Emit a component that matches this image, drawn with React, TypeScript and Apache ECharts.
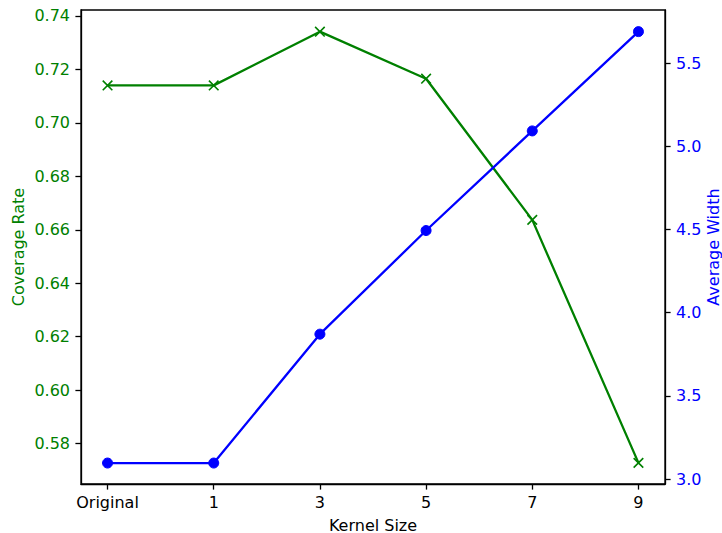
import React, { useEffect, useRef } from "react";
import * as echarts from "echarts";

const categories = ["Original", "1", "3", "5", "7", "9"];
const coverageRate = [0.714, 0.714, 0.7341, 0.7165, 0.6637, 0.5728];
const averageWidth = [3.096, 3.096, 3.871, 4.494, 5.093, 5.69];
const leftTicks = [0.58, 0.6, 0.62, 0.64, 0.66, 0.68, 0.7, 0.72, 0.74];
const rightTicks = [3.0, 3.5, 4.0, 4.5, 5.0, 5.5];
const xPositions = categories.map((_, i) => i);

const GREEN = "#008000";
const BLUE = "#0000ff";
const FONT = "DejaVu Sans";
const FS = 16;

export default function App() {
  const ref = useRef<HTMLDivElement>(null);
  useEffect(() => {
    if (!ref.current) return;
    const chart = echarts.init(ref.current, null, { renderer: "svg" });
    const spine = { color: "#000", width: 1.3 };
    const option = {
      animation: false,
      backgroundColor: "#ffffff",
      textStyle: { fontFamily: FONT },
      grid: {
        left: 81,
        right: 57,
        top: 10,
        bottom: 49,
        show: true,
        borderColor: "#000",
        borderWidth: 1.3,
        containLabel: false,
        outerBoundsMode: "none",
      },
      xAxis: {
        type: "value",
        min: -0.25,
        max: 5.25,
        name: "Kernel Size",
        nameLocation: "middle",
        nameGap: 33,
        nameMoveOverlap: false,
        nameTextStyle: { color: "#000", fontSize: FS, fontFamily: FONT },
        splitLine: { show: false },
        axisLine: { show: true, onZero: false, lineStyle: spine },
        axisTick: {
          show: true,
          length: 5.6,
          customValues: xPositions,
          lineStyle: spine,
        },
        axisLabel: {
          customValues: xPositions,
          color: "#000",
          fontSize: FS,
          fontFamily: FONT,
          margin: 10,
          formatter: (v: number) => categories[Math.round(v)] ?? "",
        },
      },
      yAxis: [
        {
          type: "value",
          position: "left",
          min: 0.5649,
          max: 0.7422,
          name: "Coverage Rate",
          nameLocation: "middle",
          nameGap: 55,
          nameMoveOverlap: false,
          nameTextStyle: { color: GREEN, fontSize: FS, fontFamily: FONT },
          splitLine: { show: false },
          axisLine: { show: true, onZero: false, lineStyle: spine },
          axisTick: {
            show: true,
            length: 5.6,
            customValues: leftTicks,
            lineStyle: spine,
          },
          axisLabel: {
            customValues: leftTicks,
            color: GREEN,
            fontSize: FS,
            fontFamily: FONT,
            margin: 11,
            formatter: (v: number) => v.toFixed(2),
          },
        },
        {
          type: "value",
          position: "right",
          min: 2.97,
          max: 5.82,
          name: "Average Width",
          nameLocation: "middle",
          nameGap: 40,
          nameMoveOverlap: false,
          nameTextStyle: { color: BLUE, fontSize: FS, fontFamily: FONT },
          splitLine: { show: false },
          axisLine: { show: true, onZero: false, lineStyle: spine },
          axisTick: {
            show: true,
            length: 5.6,
            customValues: rightTicks,
            lineStyle: spine,
          },
          axisLabel: {
            customValues: rightTicks,
            color: BLUE,
            fontSize: FS,
            fontFamily: FONT,
            margin: 11,
            formatter: (v: number) => v.toFixed(1),
          },
        },
      ],
      series: [
        {
          name: "Coverage Rate",
          type: "line",
          yAxisIndex: 0,
          data: coverageRate.map((v, i) => [xPositions[i], v]),
          symbol: "path://M0,0L10,10M10,0L0,10",
          symbolSize: 9.6,
          showAllSymbol: true,
          lineStyle: { color: GREEN, width: 2.3 },
          itemStyle: { color: "none", borderColor: GREEN, borderWidth: 1.6 },
          z: 2,
        },
        {
          name: "Average Width",
          type: "line",
          yAxisIndex: 1,
          data: averageWidth.map((v, i) => [xPositions[i], v]),
          symbol: "circle",
          symbolSize: 10,
          showAllSymbol: true,
          lineStyle: { color: BLUE, width: 2.3 },
          itemStyle: { color: BLUE, borderColor: BLUE, borderWidth: 1 },
          z: 3,
        },
      ],
    };
    chart.setOption(option as any);
    return () => chart.dispose();
  }, []);
  return (
    <div
      ref={ref}
      style={{ position: "fixed", left: 0, top: 0, width: 722, height: 533 }}
    />
  );
}
